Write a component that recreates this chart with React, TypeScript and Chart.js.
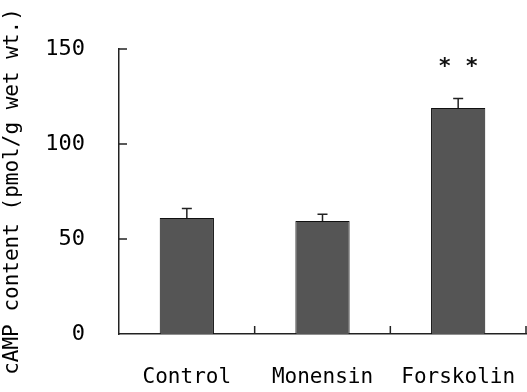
import React, { useEffect, useRef } from "react";
import { Chart, registerables } from "chart.js";

Chart.register(...registerables);

const categories = ["Control", "Monensin", "Forskolin"];
const means = [61, 59.5, 119];
const errors = [5, 3.5, 5];
const yTicks = [0, 50, 100, 150];
const significance = ["", "", "* *"];
const yTitle = "cAMP content (pmol/g wet wt.)";

const FONT = "'DejaVu Sans Mono', monospace";

const decorPlugin = {
  id: "decor",
  afterDatasetsDraw(chart: any) {
    const ctx = chart.ctx;
    const xs = chart.scales.x;
    const ys = chart.scales.y;
    const meta = chart.getDatasetMeta(0);
    ctx.save();
    ctx.strokeStyle = "#222";
    ctx.lineWidth = 1.5;
    // error bars (upper only, T-shaped)
    meta.data.forEach((bar: any, i: number) => {
      const cx = bar.x;
      const top = ys.getPixelForValue(means[i]);
      const et = ys.getPixelForValue(means[i] + errors[i]);
      ctx.beginPath();
      ctx.moveTo(cx, top);
      ctx.lineTo(cx, et);
      ctx.moveTo(cx - 5, et);
      ctx.lineTo(cx + 5, et);
      ctx.stroke();
    });
    // inward y ticks
    yTicks.forEach((v) => {
      if (v === 0) return;
      const py = ys.getPixelForValue(v);
      ctx.beginPath();
      ctx.moveTo(xs.left, py);
      ctx.lineTo(xs.left + 8, py);
      ctx.stroke();
    });
    // inward x ticks at category boundaries
    const step = xs.getPixelForValue(1) - xs.getPixelForValue(0);
    for (let i = 0; i < categories.length; i++) {
      const px = xs.getPixelForValue(i) + step / 2;
      ctx.beginPath();
      ctx.moveTo(px, ys.bottom);
      ctx.lineTo(px, ys.bottom - 8);
      ctx.stroke();
    }
    // significance marks
    ctx.fillStyle = "#111";
    ctx.font = "bold 22px 'DejaVu Sans'";
    ctx.textAlign = "center";
    ctx.textBaseline = "middle";
    meta.data.forEach((bar: any, i: number) => {
      const s = significance[i];
      if (!s) return;
      const py = ys.getPixelForValue(means[i] + errors[i] + 16);
      const parts = s.split(" ");
      parts.forEach((p: string, k: number) => {
        const off = (k - (parts.length - 1) / 2) * 27;
        ctx.fillText(p, bar.x + off, py - 1);
      });
    });
    ctx.restore();
  },
};

export default function App() {
  const ref = useRef<HTMLCanvasElement>(null);
  useEffect(() => {
    if (!ref.current) return;
    const chart = new Chart(ref.current, {
      type: "bar",
      data: {
        labels: categories,
        datasets: [
          {
            data: means,
            backgroundColor: "#555555",
            borderColor: "#111",
            borderWidth: 1,
            barPercentage: 0.4,
            categoryPercentage: 1,
          },
        ],
      },
      options: {
        animation: false,
        responsive: false,
        layout: { padding: { top: 49, right: 1, left: 0, bottom: 0 } },
        plugins: { legend: { display: false }, tooltip: { enabled: false } },
        scales: {
          x: {
            offset: true,
            grid: { display: false, drawTicks: false },
            border: { display: true, color: "#222", width: 1.5 },
            ticks: { color: "#000", font: { family: FONT, size: 21 }, padding: 31, maxRotation: 0 },
            afterFit: (s: any) => {
              s.height = 392 - 334;
              s.paddingLeft = 0;
              s.paddingRight = 0;
            },
          },
          y: {
            min: 0,
            max: 150,
            afterBuildTicks: (s: any) => {
              s.ticks = yTicks.map((v) => ({ value: v }));
            },
            grid: { display: false, drawTicks: false },
            border: { display: true, color: "#222", width: 1.5 },
            ticks: { color: "#000", font: { family: FONT, size: 22 }, padding: 34 },
            title: {
              display: true,
              text: yTitle,
              color: "#000",
              font: { family: FONT, size: 21 },
              padding: { top: 0, bottom: 0 },
            },
            afterFit: (s: any) => {
              s.width = 119;
            },
          },
        },
      },
      plugins: [decorPlugin],
    });
    return () => chart.destroy();
  }, []);
  return (
    <div style={{ position: "fixed", left: 0, top: 0, width: 527, height: 392, background: "#fff" }}>
      <canvas ref={ref} width={527} height={392} />
    </div>
  );
}
